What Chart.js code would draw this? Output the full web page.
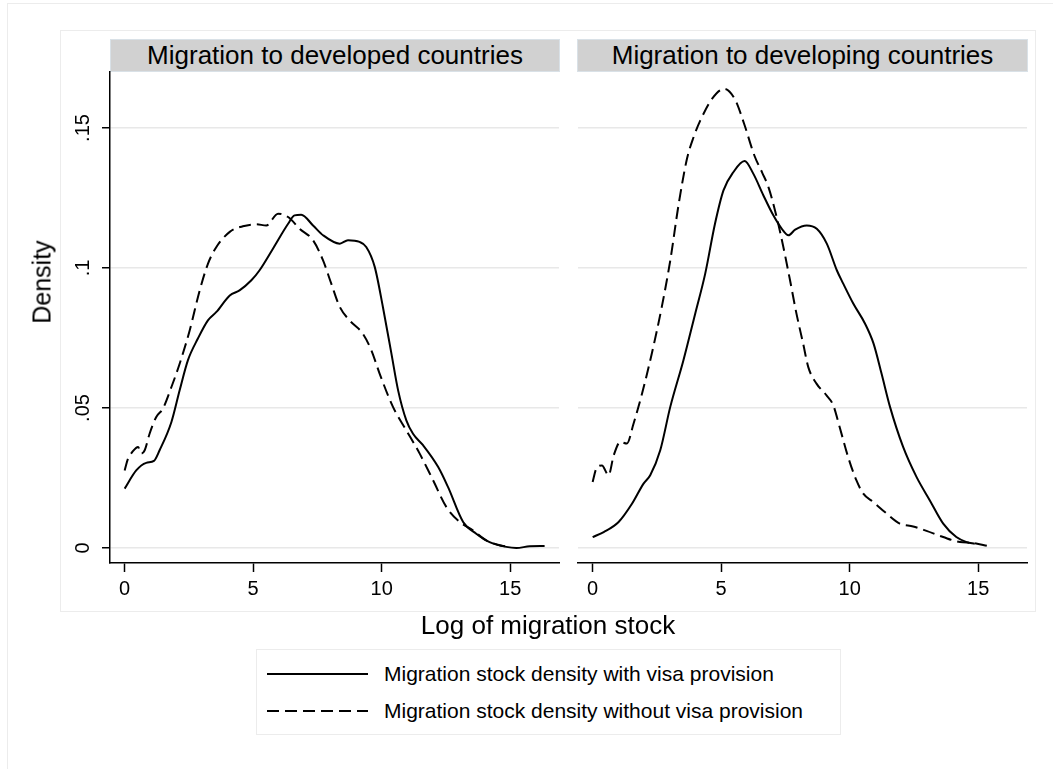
<!DOCTYPE html>
<html>
<head>
<meta charset="utf-8">
<title>Migration stock densities</title>
<script src="https://cdn.jsdelivr.net/npm/chart.js@4.4.1/dist/chart.umd.min.js"></script>
<style>
  html, body { margin: 0; padding: 0; background: #fff; }
  body {
    width: 1053px; height: 769px; position: relative; overflow: hidden;
    font-family: 'Liberation Sans', Arial, Helvetica, sans-serif; color: #000;
  }
  .frame { position: absolute; box-sizing: border-box; border: 1.5px solid #ececec; }
  .strip {
    position: absolute; box-sizing: border-box; background: #d1d1d1;
    border: 1.5px solid #d9e1e7; font-size: 26px; text-align: center;
    line-height: 30px; white-space: nowrap;
  }
  .panel { position: absolute; left: 0; top: 0; }
  .ytitle {
    position: absolute; font-size: 25px; white-space: nowrap;
    transform: translate(-50%, -50%) rotate(-90deg); left: 42px; top: 282px;
  }
  .xtitle {
    position: absolute; font-size: 26px; white-space: nowrap;
    transform: translate(-50%, -50%); left: 548px; top: 625px;
  }
  .legend {
    position: absolute; box-sizing: border-box; left: 256px; top: 649px;
    width: 585px; height: 86px; border: 1.5px solid #ececec; background: #fff;
  }
  .legend .row { position: absolute; left: 10px; height: 24px; display: flex; align-items: center; }
  .legend svg { width: 101px; height: 6px; margin-right: 16px; }
  .legend span { font-size: 21px; white-space: nowrap; }
</style>
</head>
<body>
<div class="frame" style="left:7px; top:3px; width:1200px; height:900px;"></div>
<div class="frame" style="left:60px; top:30px; width:976px; height:582px;"></div>

<div class="strip" id="strip0" style="left:110px; top:39px; width:450px; height:33px;"></div>
<div class="strip" id="strip1" style="left:577px; top:39px; width:451px; height:33px;"></div>

<canvas id="panel0" class="panel" width="1053" height="769"></canvas>
<canvas id="panel1" class="panel" width="1053" height="769"></canvas>

<div class="ytitle" id="ytitle"></div>
<div class="xtitle" id="xtitle"></div>

<div class="legend">
  <div class="row" style="top:12px;">
    <svg viewBox="0 0 101 6"><line x1="0" y1="3" x2="101" y2="3" stroke="#000" stroke-width="2"/></svg>
    <span id="leg0"></span>
  </div>
  <div class="row" style="top:49px;">
    <svg viewBox="0 0 101 6"><line x1="0" y1="3" x2="101" y2="3" stroke="#000" stroke-width="2" stroke-dasharray="12 6"/></svg>
    <span id="leg1"></span>
  </div>
</div>

<script>
// Titles and labels
const panelTitles = ['Migration to developed countries', 'Migration to developing countries'];
const seriesNames = ['Migration stock density with visa provision', 'Migration stock density without visa provision'];
const xAxisTitle = 'Log of migration stock';
const yAxisTitle = 'Density';

// Axis ticks
const xTickValues = [0, 5, 10, 15];
const xTickLabels = ['0', '5', '10', '15'];
const yTickValues = [0, 0.05, 0.1, 0.15];
const yTickLabels = ['0', '.05', '.1', '.15'];

// Developed destinations: density with visa provision
const developedVisaX = [0, 0.45, 0.84, 1.14, 1.36, 1.82, 2.14, 2.46, 2.85, 3.24, 3.57, 4.09, 4.47, 4.93, 5.25, 5.77, 6.36, 6.61, 6.87, 7.33, 7.72, 8.37, 8.69, 9.14, 9.4, 9.73, 10.05, 10.38, 10.64, 10.96, 11.22, 11.61, 12.2, 12.58, 13.17, 13.68, 14.2, 14.85, 15.24, 15.76, 16.34];
const developedVisaY = [0.0212, 0.0277, 0.0304, 0.0311, 0.0349, 0.045, 0.0563, 0.067, 0.0748, 0.0813, 0.0843, 0.0902, 0.092, 0.0956, 0.0992, 0.1069, 0.1158, 0.1188, 0.119, 0.1152, 0.1117, 0.1087, 0.1099, 0.1093, 0.1075, 0.1004, 0.086, 0.0694, 0.0563, 0.0456, 0.0408, 0.0367, 0.0289, 0.0218, 0.0093, 0.0051, 0.0021, 0.0004, 0.0, 0.0006, 0.0007];

// Developed destinations: density without visa provision
const developedNoVisaX = [0, 0.13, 0.3, 0.52, 0.65, 0.78, 0.97, 1.23, 1.49, 1.82, 2.14, 2.53, 2.92, 3.24, 3.57, 4.09, 4.6, 5.12, 5.51, 5.97, 6.36, 6.81, 7.33, 7.72, 8.04, 8.37, 8.75, 9.27, 9.6, 9.92, 10.44, 10.96, 11.48, 12.0, 12.52, 13.04, 13.55, 14.07, 14.59, 14.9];
const developedNoVisaY = [0.0277, 0.0319, 0.0343, 0.0361, 0.0337, 0.0349, 0.0408, 0.0468, 0.0498, 0.0575, 0.0658, 0.0777, 0.092, 0.1015, 0.1075, 0.1129, 0.1149, 0.1156, 0.1152, 0.1194, 0.1182, 0.114, 0.1099, 0.1027, 0.0944, 0.0861, 0.0813, 0.0765, 0.0706, 0.0623, 0.0504, 0.042, 0.0337, 0.0242, 0.0146, 0.0093, 0.0063, 0.0027, 0.001, 0.0004];

// Developing destinations: density with visa provision
const developingVisaX = [0, 0.43, 1.01, 1.53, 1.98, 2.24, 2.63, 3.02, 3.53, 3.99, 4.38, 4.76, 5.09, 5.48, 5.91, 6.25, 6.64, 7.03, 7.36, 7.62, 7.88, 8.33, 8.72, 9.11, 9.5, 9.75, 10.14, 10.6, 10.93, 11.24, 11.57, 12.08, 12.6, 13.12, 13.64, 14.15, 14.55, 14.87];
const developingVisaY = [0.0039, 0.0057, 0.0093, 0.0158, 0.023, 0.026, 0.0349, 0.0504, 0.067, 0.0837, 0.098, 0.1158, 0.1277, 0.1343, 0.1382, 0.1337, 0.126, 0.1188, 0.114, 0.1117, 0.1137, 0.1152, 0.114, 0.1087, 0.0992, 0.0944, 0.0873, 0.0801, 0.073, 0.0623, 0.0504, 0.0361, 0.0254, 0.017, 0.0087, 0.0039, 0.0021, 0.0015];

// Developing destinations: density without visa provision
const developingNoVisaX = [0, 0.14, 0.36, 0.62, 0.82, 1.08, 1.33, 1.59, 1.92, 2.3, 2.69, 3.02, 3.35, 3.67, 3.93, 4.19, 4.65, 5.12, 5.55, 5.89, 6.3, 6.6, 6.84, 7.16, 7.42, 7.68, 7.93, 8.19, 8.39, 8.71, 9.1, 9.36, 9.61, 9.94, 10.26, 10.53, 10.92, 11.44, 11.95, 12.47, 12.99, 13.64, 14.29, 14.8, 15.39];
const developingNoVisaY = [0.0236, 0.0283, 0.0295, 0.026, 0.0331, 0.0379, 0.0373, 0.0444, 0.0551, 0.0694, 0.0861, 0.1027, 0.123, 0.139, 0.1468, 0.1527, 0.1605, 0.164, 0.16, 0.1516, 0.14, 0.134, 0.1289, 0.1182, 0.1075, 0.0956, 0.0837, 0.073, 0.0646, 0.0587, 0.0545, 0.051, 0.0432, 0.0325, 0.0242, 0.0194, 0.0164, 0.0123, 0.0087, 0.0077, 0.0061, 0.0039, 0.0021, 0.0018, 0.0007];

// Shared axis ranges
const xRange = [-0.57, 16.9];
const yRange = [-0.00536, 0.17];

document.getElementById('strip0').textContent = panelTitles[0];
document.getElementById('strip1').textContent = panelTitles[1];
document.getElementById('ytitle').textContent = yAxisTitle;
document.getElementById('xtitle').textContent = xAxisTitle;
document.getElementById('leg0').textContent = seriesNames[0];
document.getElementById('leg1').textContent = seriesNames[1];

Chart.defaults.font.family = "'Liberation Sans', Arial, Helvetica, sans-serif";
Chart.defaults.font.size = 20;
Chart.defaults.color = '#000';

function toPoints(xs, ys) {
  return xs.map((x, i) => ({ x: x, y: ys[i] }));
}

function lineDataset(label, xs, ys, dash) {
  return {
    label: label,
    data: toPoints(xs, ys),
    borderColor: '#000',
    borderWidth: 2,
    borderDash: dash,
    pointRadius: 0,
    fill: false,
    cubicInterpolationMode: 'monotone'
  };
}

function makePanel(canvasId, visaX, visaY, noVisaX, noVisaY, geom) {
  const withAxis = geom.yAxisWidth > 0;
  return new Chart(document.getElementById(canvasId), {
    type: 'line',
    data: {
      datasets: [
        lineDataset(seriesNames[0], visaX, visaY, []),
        lineDataset(seriesNames[1], noVisaX, noVisaY, [12, 6])
      ]
    },
    options: {
      responsive: false,
      animation: false,
      devicePixelRatio: 1,
      layout: { padding: geom.padding },
      plugins: { legend: { display: false }, tooltip: { enabled: false } },
      events: [],
      scales: {
        x: {
          type: 'linear',
          min: xRange[0],
          max: xRange[1],
          afterBuildTicks: (s) => { s.ticks = xTickValues.map(v => ({ value: v })); },
          afterFit: (s) => { s.height = 48; s.paddingLeft = 0; s.paddingRight = 0; },
          ticks: {
            padding: 5,
            maxRotation: 0,
            callback: (v) => xTickLabels[xTickValues.indexOf(v)]
          },
          grid: { drawOnChartArea: false, drawTicks: true, tickLength: 9, tickColor: '#000', tickWidth: 1.5 },
          border: { display: true, color: '#000', width: 1.5 }
        },
        y: {
          type: 'linear',
          min: yRange[0],
          max: yRange[1],
          afterBuildTicks: (s) => { s.ticks = yTickValues.map(v => ({ value: v })); },
          afterFit: (s) => { s.width = geom.yAxisWidth; s.paddingTop = 0; s.paddingBottom = 0; },
          ticks: {
            display: withAxis,
            padding: 5,
            minRotation: 90,
            maxRotation: 90,
            crossAlign: 'center',
            callback: (v) => yTickLabels[yTickValues.indexOf(v)]
          },
          grid: {
            color: '#e8e8e8', lineWidth: 1.5,
            drawTicks: withAxis, tickLength: withAxis ? 8 : 0, tickColor: '#000', tickWidth: 1.5
          },
          border: { display: withAxis, color: '#000', width: 1.5 }
        }
      }
    }
  });
}

makePanel('panel0', developedVisaX, developedVisaY, developedNoVisaX, developedNoVisaY,
  { yAxisWidth: 110, padding: { left: 0, right: 494, top: 72, bottom: 158 } });
makePanel('panel1', developingVisaX, developingVisaY, developingNoVisaX, developingNoVisaY,
  { yAxisWidth: 0, padding: { left: 578, right: 26, top: 72, bottom: 158 } });
</script>
</body>
</html>
